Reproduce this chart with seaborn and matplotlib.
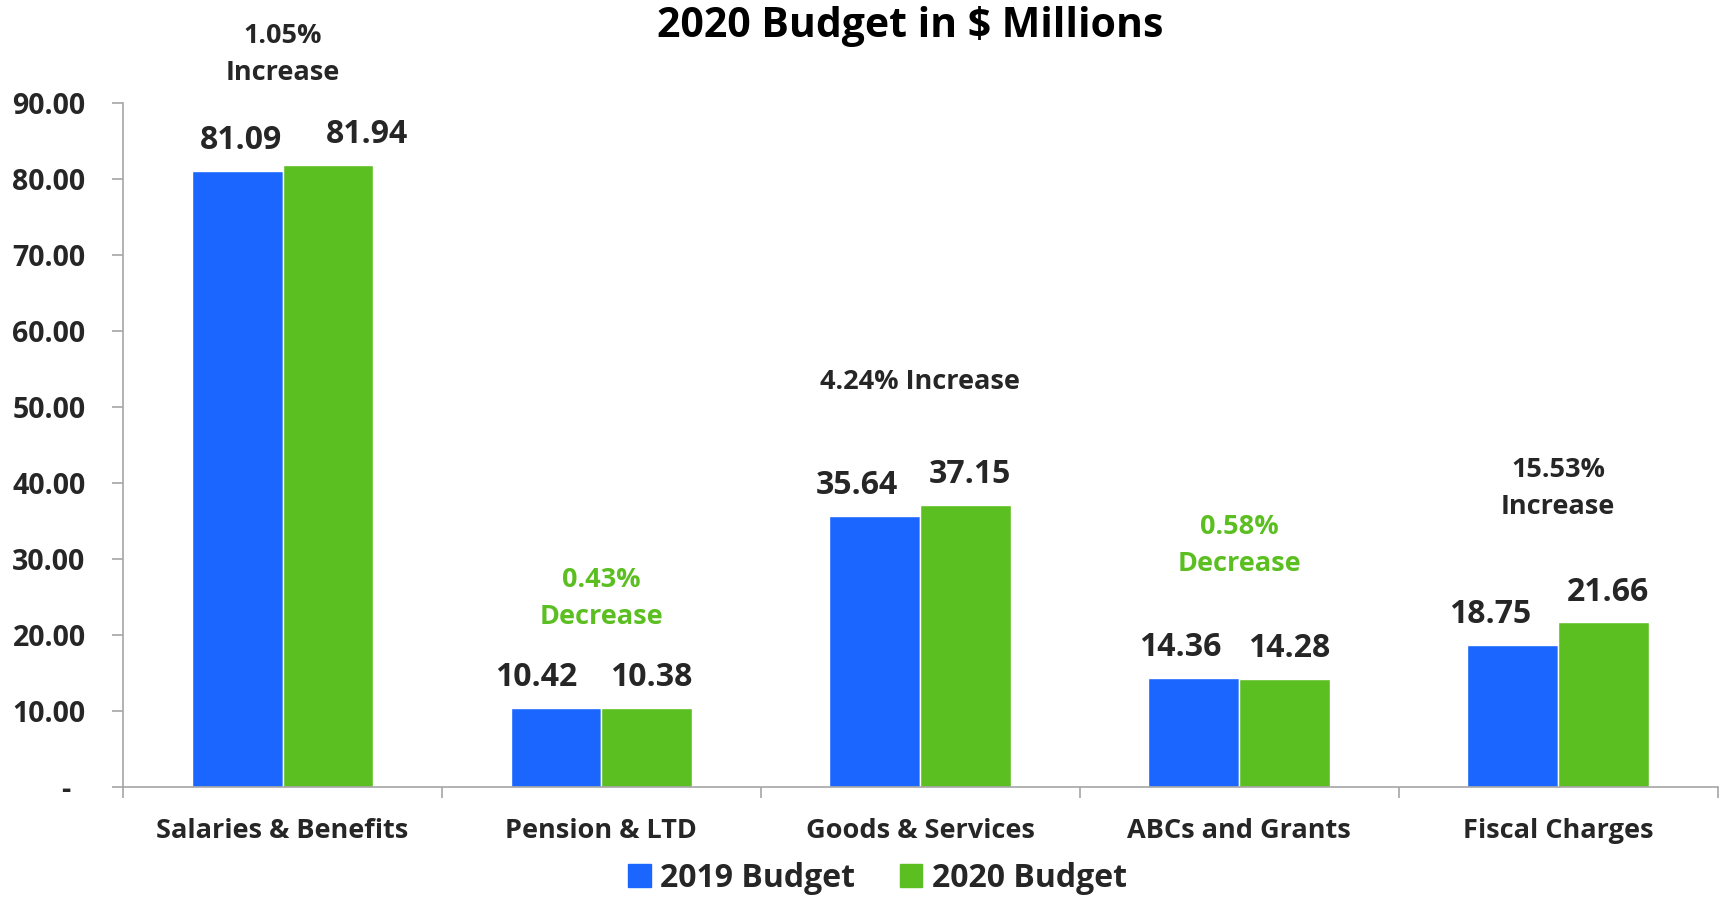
import matplotlib
matplotlib.use("Agg")
import matplotlib.pyplot as plt
from matplotlib.ticker import FixedLocator
import seaborn as sns
import pandas as pd

categories = ["Salaries & Benefits", "Pension & LTD", "Goods & Services",
              "ABCs and Grants", "Fiscal Charges"]
budget_2019 = [81.09, 10.42, 35.64, 14.36, 18.75]
budget_2020 = [81.94, 10.38, 37.15, 14.28, 21.66]
series = ["2019 Budget", "2020 Budget"]
notes = ["1.05%\nIncrease", "0.43%\nDecrease", "4.24% Increase",
         "0.58%\nDecrease", "15.53%\nIncrease"]
note_y = [96.4, 24.8, 53.3, 31.8, 39.3]
yticks = [0, 10, 20, 30, 40, 50, 60, 70, 80, 90]

# horizontal nudges of the value labels (points), as placed in the original
label_dx = [[3, -14, -13, -10, -16], [28, 3, 3, 3, 3]]

BLUE = "#1a66ff"
GREEN = "#5bbf21"
DARK = "#262626"
GRAY = "#a6a6a6"

df = pd.DataFrame({
    "category": categories * 2,
    "value": budget_2019 + budget_2020,
    "series": [series[0]] * len(categories) + [series[1]] * len(categories),
})

sns.set_theme(style="white")
plt.rcParams["font.family"] = ["Open Sans", "DejaVu Sans"]
plt.rcParams["font.weight"] = "bold"

fig = plt.figure(figsize=(17.21, 8.98), dpi=100)
ax = fig.add_axes([0.0715, 0.1236, 0.9265, 0.7614])

sns.barplot(data=df, x="category", y="value", hue="series",
            palette=[BLUE, GREEN], width=0.57, gap=0, saturation=1,
            legend=False, ax=ax)

# value labels above bars
for cont, dxs in zip(ax.containers, label_dx):
    for bar, v, dx in zip(cont.patches, cont.datavalues, dxs):
        ax.annotate(f"{v:.2f}", (bar.get_x() + bar.get_width() / 2, v),
                    xytext=(dx, 10), textcoords="offset points",
                    ha="center", va="bottom", fontsize=23,
                    fontweight="bold", color=DARK)

# change annotations
for i, (txt, yy) in enumerate(zip(notes, note_y)):
    col = GREEN if "Decrease" in txt else DARK
    ax.text(i, yy, txt, ha="center", va="center", fontsize=19.5,
            fontweight="bold", color=col, linespacing=1.55, clip_on=False)

ax.set_xlim(-0.5, len(categories) - 0.5)
ax.set_ylim(0, 90)
ax.set_yticks(yticks)
ax.set_yticklabels([f"{t:.2f}" if t else "-  " for t in yticks],
                   fontsize=20.5, fontweight="bold", color=DARK)
ax.set_xticks(range(len(categories)))
ax.set_xticklabels(categories, fontsize=19.5, fontweight="bold", color=DARK)
ax.xaxis.set_minor_locator(FixedLocator([i - 0.5 for i in range(len(categories) + 1)]))
ax.tick_params(axis="x", which="major", length=0, pad=22)
ax.tick_params(axis="x", which="minor", length=8, width=1.2, color=GRAY, bottom=True)
ax.tick_params(axis="y", length=8, width=1.2, color=GRAY, left=True, pad=19)
ax.set_xlabel("")
ax.set_ylabel("")

for s in ["top", "right"]:
    ax.spines[s].set_visible(False)
for s in ["left", "bottom"]:
    ax.spines[s].set_color(GRAY)
    ax.spines[s].set_linewidth(1.2)

fig.suptitle("2020 Budget in $ Millions", x=0.529, y=0.97, va="center",
             fontsize=29.5, fontweight="bold", color="black")

handles = [plt.Rectangle((0, 0), 1, 1, color=c) for c in [BLUE, GREEN]]
fig.legend(handles, series, loc="center", bbox_to_anchor=(0.51, 0.022),
           ncol=2, frameon=False, handlelength=0.7,
           handleheight=0.7, handletextpad=0.3, columnspacing=1.4,
           labelcolor=DARK, prop={"weight": "bold", "size": 23})

fig.savefig("out.png", dpi=100)
